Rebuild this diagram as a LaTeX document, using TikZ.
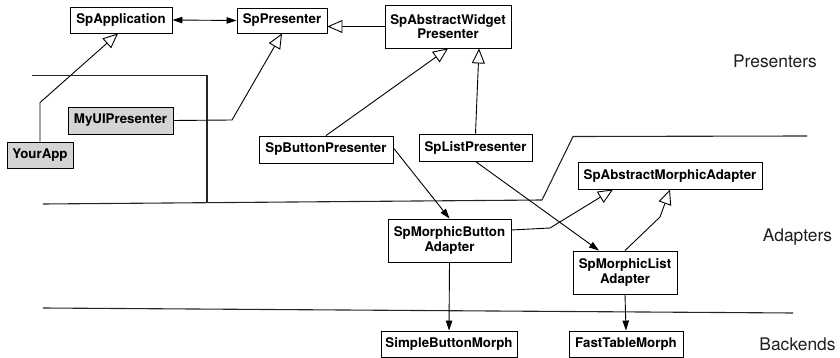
\documentclass[tikz,border=0pt]{standalone}
\usepackage{fontspec}
\setmainfont{TeX Gyre Heros}
\usetikzlibrary{arrows.meta,calc}
\definecolor{boxgray}{HTML}{D4D4D4}
\definecolor{labelgray}{HTML}{1E1E1E}
\tikzset{
  cls/.style={draw=black, line width=0.9pt, fill=white, inner sep=0pt, align=center,
    font=\fontsize{13.3}{14.5}\selectfont\bfseries},
  usercls/.style={cls, fill=boxgray},
  inherit/.style={draw=black, line width=0.9pt, -{Triangle[open,length=15pt,width=13pt,fill=white]}},
  assoc/.style={draw=black, line width=0.9pt, -{Triangle[length=10pt,width=6.5pt]}},
  bothassoc/.style={draw=black, line width=0.9pt, {Triangle[length=10pt,width=6.5pt]}-{Triangle[length=10pt,width=6.5pt]}},
  sep/.style={draw=black!85, line width=1.1pt},
  layer/.style={font=\fontsize{17.4}{20}\selectfont, text=labelgray, inner sep=0pt}
}
\begin{document}
\begin{tikzpicture}[x=1pt,y=-1pt]
\useasboundingbox (0,0) rectangle (840,358);
% layer separators
\draw[sep] (32,75.5) -- (207,75.5) -- (207,203);
\draw[sep] (43,204) -- (542,200) -- (573,136.5) -- (807,136);
\draw[sep] (43,308) -- (793,313);
% nodes
\node[cls, minimum width=102pt, minimum height=26pt] (app) at (121,20) {SpApplication};
\node[cls, minimum width=90pt, minimum height=25pt] (pres) at (282,20.5) {SpPresenter};
\node[cls, minimum width=126pt, minimum height=43pt] (awp) at (448,26.5) {SpAbstractWidget\\Presenter};
\node[usercls, minimum width=105pt, minimum height=27pt] (myui) at (120.5,120.5) {MyUIPresenter};
\node[usercls, minimum width=66pt, minimum height=26pt] (yourapp) at (40,155) {YourApp};
\node[cls, minimum width=134pt, minimum height=27pt] (bp) at (326,149.5) {SpButtonPresenter};
\node[cls, minimum width=113pt, minimum height=27pt] (lp) at (475.5,147.5) {SpListPresenter};
\node[cls, minimum width=184pt, minimum height=27pt] (ama) at (670,175.5) {SpAbstractMorphicAdapter};
\node[cls, minimum width=123pt, minimum height=43pt] (mba) at (449.5,240.5) {SpMorphicButton\\Adapter};
\node[cls, minimum width=104pt, minimum height=43pt] (mla) at (625,272.5) {SpMorphicList\\Adapter};
\node[cls, minimum width=136pt, minimum height=26pt] (sbm) at (449,344) {SimpleButtonMorph};
\node[cls, minimum width=114pt, minimum height=26pt] (ftm) at (626,344) {FastTableMorph};
% layer labels
\node[layer] (lpres) at (775,61) {Presenters};
\node[layer] (ladap) at (797.5,237) {Adapters};
\node[layer] (lback) at (797.5,344) {Backends};
% connectors
\draw[bothassoc] (app.east) -- (pres.west);
\draw[inherit] (awp.west) -- (awp.west -| pres.east);
\draw[inherit] (yourapp.north) -- ++(0,-39) -- ($(app.south)+(-3,0)$);
\draw[inherit] (myui.east) -- (232,120) -- (pres.south);
\draw[inherit] (bp.north) -- (awp.south);
\draw[inherit] (lp.north) -- ($(awp.south)+(31,0)$);
\draw[assoc] ($(bp.east)+(0,-1.5)$) -- (mba.north);
\draw[assoc] (lp.south) -- ($(mla.north)+(-26,0)$);
\draw[inherit] ($(mba.east)+(0,-10.5)$) -- (550,228) -- ($(ama.south)+(-57,0)$);
\draw[inherit] (mla.north) -- (660,217) -- (ama.south);
\draw[assoc] (mba.south) -- (sbm.north);
\draw[assoc] (mla.south) -- (ftm.north);
\end{tikzpicture}
\end{document}
